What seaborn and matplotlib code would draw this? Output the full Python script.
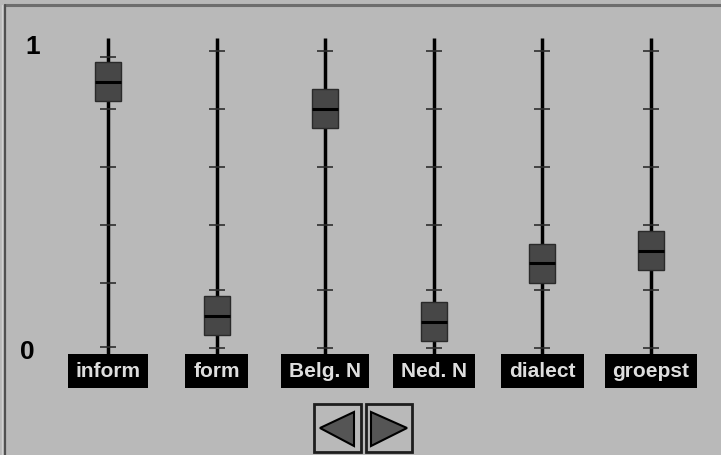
import matplotlib
matplotlib.use("Agg")
import matplotlib.pyplot as plt
import seaborn as sns
import pandas as pd
import numpy as np
from matplotlib.patches import Rectangle, Polygon

# ---- data ----
categories = ["inform", "form", "Belg. N", "Ned. N", "dialect", "groepst"]
values = [0.896, 0.108, 0.805, 0.088, 0.286, 0.327]
tick_values = [0.0, 0.195, 0.414, 0.609, 0.805, 1.0]
tick_values_inform = [0.003, 0.219, 0.414, 0.609, 0.805, 0.980]
scale_labels = ["0", "1"]

W, H = 721, 456
BG = "#b9b9b9"

sns.set_theme(style="white")
plt.rcParams["font.family"] = ["Liberation Sans", "DejaVu Sans"]

fig = plt.figure(figsize=(W / 100, H / 100), dpi=100, facecolor=BG)
ax = fig.add_axes([0, 0, 1, 1])
ax.set_facecolor(BG)
ax.set_xlim(-0.9945, 5.6446)
ax.set_ylim(-0.3603, 1.1751)
ax.axis("off")

xs = np.arange(len(categories))
df = pd.DataFrame({"cat": categories, "x": xs, "value": values})

# slider rails
ax.vlines(xs, -0.02, 1.044, color="black", linewidth=2.5, zorder=1)

# tick marks
trows = []
for i, c in enumerate(categories):
    tv = tick_values_inform if c == "inform" else tick_values
    for t in tv:
        trows.append({"x": i, "t": t})
tdf = pd.DataFrame(trows)
sns.scatterplot(data=tdf, x="x", y="t", marker="_", s=120, color="#2e2e2e",
                linewidth=1.2, ax=ax, zorder=2, legend=False)

# slider thumbs
bw = 26 / 108.6
bh = 39 / 297
ax.bar(df["x"], bh, bottom=df["value"] - bh / 2, width=bw, color="#474747",
       edgecolor="#2a2a2a", linewidth=1.0, zorder=3)
sns.scatterplot(data=df, x="x", y="value", marker="_", s=330, color="black",
                linewidth=2.2, ax=ax, zorder=4, legend=False)
ax.axis("off")

# category labels
for i, c in enumerate(categories):
    ax.text(i, -0.0774, c, ha="center", va="center", fontsize=15,
            fontweight="bold", color="#dedede", zorder=5,
            bbox=dict(boxstyle="square,pad=0.38", facecolor="black", edgecolor="none"))

# scale labels
ax.text(-0.746, -0.01, scale_labels[0], ha="center", va="center", fontsize=19,
        fontweight="bold", color="black")
ax.text(-0.69, 1.017, scale_labels[1], ha="center", va="center", fontsize=19,
        fontweight="bold", color="black")

# frame lines (top and left)
def fx(px):
    return px / W

def fy(py):
    return 1 - py / H

fig.add_artist(plt.Line2D([fx(5), 1], [fy(6), fy(6)], transform=fig.transFigure,
                          color="#6e6e6e", linewidth=2.2))
fig.add_artist(plt.Line2D([fx(5), fx(5)], [fy(6), 0], transform=fig.transFigure,
                          color="#505050", linewidth=1.6))
fig.add_artist(plt.Line2D([fx(2), fx(2)], [fy(6), 0], transform=fig.transFigure,
                          color="#d2d2d2", linewidth=1.0))

# navigation buttons
for (x0, x1) in [(314, 361), (366, 412)]:
    fig.add_artist(Rectangle((fx(x0), fy(453)), fx(x1) - fx(x0), fy(405) - fy(453),
                             transform=fig.transFigure, facecolor=BG,
                             edgecolor="#1e1e1e", linewidth=2.0))
left_tri = [(fx(320), fy(429)), (fx(354), fy(413)), (fx(354), fy(447))]
right_tri = [(fx(371), fy(413)), (fx(371), fy(447)), (fx(407), fy(429))]
for tri in (left_tri, right_tri):
    fig.add_artist(Polygon(tri, closed=True, transform=fig.transFigure,
                           facecolor="#555555", edgecolor="black", linewidth=1.5))

fig.savefig("out.png", dpi=100, facecolor=BG)
